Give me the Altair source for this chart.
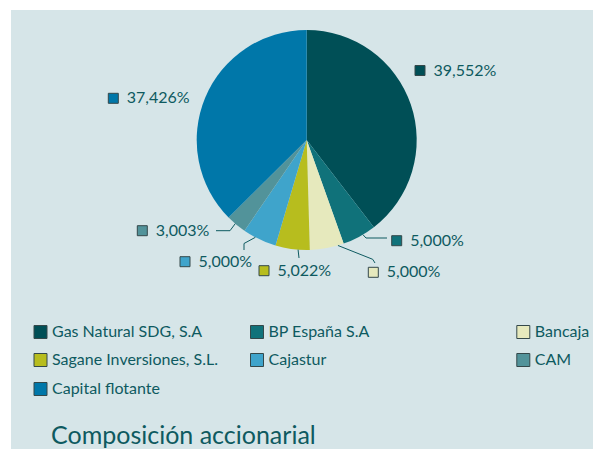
import altair as alt
import pandas as pd
import numpy as np

# ---- data ----
owners = ["Gas Natural SDG, S.A", "BP España S.A", "Bancaja",
          "Sagane Inversiones, S.L.", "Cajastur", "CAM", "Capital flotante"]
shares = [39.552, 5.000, 5.000, 5.022, 5.000, 3.003, 37.426]
colors = ["#004f56", "#10727a", "#e6e9bd", "#b7bd1e", "#3fa4cb", "#52939a", "#0077a9"]
title_text = "Composición accionarial"

# ---- layout (page pixels) ----
BG = "#d6e5e8"
TXT = "#0e5a60"
FONT = "Lato"
OX, OY = 11, 10            # top-left of the coloured panel
W, H = 582, 439
CX, CY, R = 306.7, 140.0, 110.0
label_pos = [(420.0, 70.5), (396.7, 240.7), (373.3, 272.3), (264.0, 270.7),
             (185.0, 261.7), (142.3, 230.7), (113.3, 98.3)]
leader_angle = [None, 149.3, 163.5, 184.5, 207.8, 220.5, None]
leader_rest = [[], [(366, 238), (387, 238)], [(372.7, 259.3), (375, 263)],
               [(299, 258)], [(244, 243.5), (244, 250)],
               [(230, 230.7), (216, 230.7)], []]
legend_col_x = [40.5, 257.0, 523.3]
legend_row_y = [332.0, 360.0, 389.0]

df = pd.DataFrame({
    "owner": owners,
    "share": shares,
    "idx": range(len(owners)),
    "label": [f"{v:.3f}".replace(".", ",") + "%" for v in shares],
    "sx": [p[0] for p in label_pos],
    "sy": [p[1] for p in label_pos],
})
df["tx"] = df["sx"] + 13.5

rows = []
for i, (a, rest) in enumerate(zip(leader_angle, leader_rest)):
    if a is None:
        continue
    t = np.radians(a)
    pts = [(CX + R * np.sin(t), CY - R * np.cos(t))] + list(rest)
    for k, (px, py) in enumerate(pts):
        rows.append({"owner": owners[i], "k": k, "x": px, "y": py})
lead = pd.DataFrame(rows)

leg = pd.DataFrame({"owner": owners, "idx": range(len(owners))})
leg["x"] = [legend_col_x[i % 3] for i in leg["idx"]]
leg["y"] = [legend_row_y[i // 3] for i in leg["idx"]]
leg["tx"] = leg["x"] + 11.5

ttl = pd.DataFrame({"t": [title_text], "x": [51.0], "y": [443.5]})

xs = alt.Scale(domain=[OX, OX + W], nice=False, zero=False)
ys = alt.Scale(domain=[OY + H, OY], nice=False, zero=False)
cscale = alt.Scale(domain=owners, range=colors)

def X(f):
    return alt.X(f, type="quantitative", scale=xs, axis=None)

def Y(f):
    return alt.Y(f, type="quantitative", scale=ys, axis=None)

pie = alt.Chart(df).mark_arc(outerRadius=R).encode(
    theta=alt.Theta("share:Q", stack=True),
    color=alt.Color("owner:N", scale=cscale, legend=None),
    order=alt.Order("idx:Q"),
    x=alt.value(CX - OX),
    y=alt.value(CY - OY),
)

leaders = alt.Chart(lead).mark_line(color=TXT, strokeWidth=1).encode(
    x=X("x"), y=Y("y"), detail="owner:N", order="k:Q"
)

lab_sq = alt.Chart(df).mark_square(size=100, opacity=1, stroke="#34484a", strokeWidth=1).encode(
    x=X("sx"), y=Y("sy"),
    fill=alt.Fill("owner:N", scale=cscale, legend=None),
)
lab_tx = alt.Chart(df).mark_text(align="left", baseline="middle", font=FONT,
                                 fontSize=16, color=TXT).encode(
    x=X("tx"), y=Y("sy"), text="label:N"
)

leg_sq = alt.Chart(leg).mark_square(size=169, opacity=1, stroke="#34484a", strokeWidth=1).encode(
    x=X("x"), y=Y("y"),
    fill=alt.Fill("owner:N", scale=cscale, legend=None),
)
leg_tx = alt.Chart(leg).mark_text(align="left", baseline="middle", font=FONT,
                                  fontSize=16, color=TXT).encode(
    x=X("tx"), y=Y("y"), text="owner:N"
)

title = alt.Chart(ttl).mark_text(align="left", baseline="alphabetic", font=FONT,
                                 fontSize=25, color=TXT).encode(
    x=X("x"), y=Y("y"), text="t:N"
)

chart = alt.layer(pie, leaders, lab_sq, lab_tx, leg_sq, leg_tx, title).properties(
    width=W, height=H,
    autosize=alt.AutoSizeParams(type="none"),
    padding={"left": OX - 8, "top": OY - 8, "right": 0, "bottom": 0},
    background="white",
).configure_view(fill=BG, strokeWidth=0)

chart.save("out.html", embed_options={"renderer": "svg", "actions": False})
